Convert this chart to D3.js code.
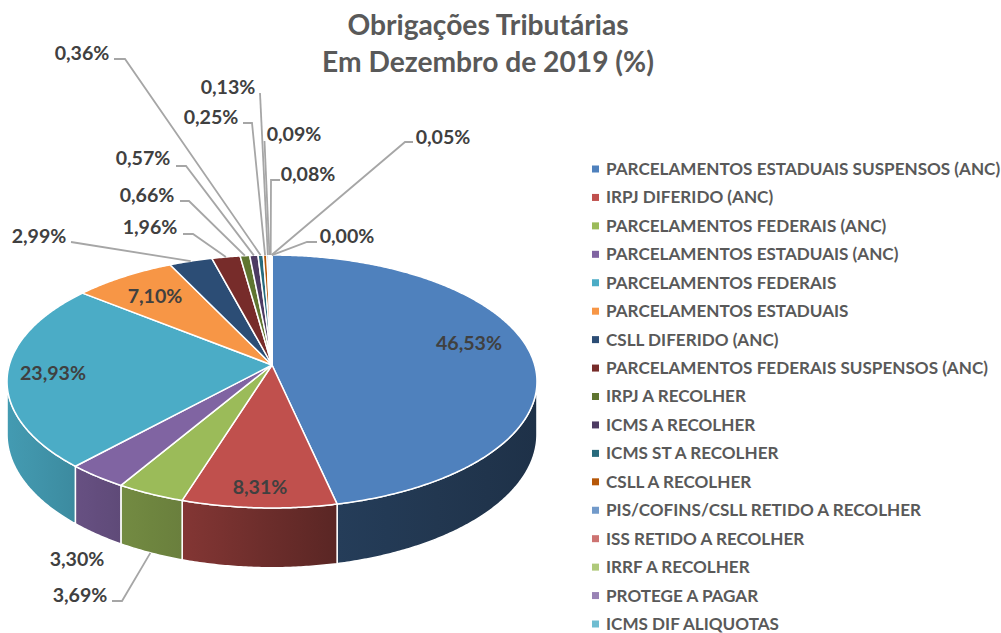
<!DOCTYPE html>
<html lang="pt">
<head>
<meta charset="utf-8">
<script src="https://cdnjs.cloudflare.com/ajax/libs/d3/7.8.5/d3.min.js"></script>
<style>
html,body{margin:0;padding:0;background:#fff}
svg{display:block}
text{font-family:Lato,"Open Sans",sans-serif;font-weight:700}
</style>
</head>
<body>
<svg id="chart" width="1001" height="633"></svg>
<script>
const titleLines = ["Obrigações Tributárias", "Em Dezembro de 2019 (%)"];
const categories = [
  "PARCELAMENTOS ESTADUAIS SUSPENSOS (ANC)", "IRPJ DIFERIDO (ANC)", "PARCELAMENTOS FEDERAIS (ANC)",
  "PARCELAMENTOS ESTADUAIS (ANC)", "PARCELAMENTOS FEDERAIS", "PARCELAMENTOS ESTADUAIS",
  "CSLL DIFERIDO (ANC)", "PARCELAMENTOS FEDERAIS SUSPENSOS (ANC)", "IRPJ A RECOLHER",
  "ICMS A RECOLHER", "ICMS ST A RECOLHER", "CSLL A RECOLHER", "PIS/COFINS/CSLL RETIDO A RECOLHER",
  "ISS RETIDO A RECOLHER", "IRRF A RECOLHER", "PROTEGE A PAGAR", "ICMS DIF ALIQUOTAS"
];
const values = [46.53, 8.31, 3.69, 3.30, 23.93, 7.10, 2.99, 1.96, 0.66, 0.57, 0.36, 0.25, 0.13, 0.09, 0.08, 0.05, 0.00];
const colors = ["#4f81bd","#c0504d","#9bbb59","#8064a2","#4bacc6","#f79646","#2c4d75","#772c2a","#5f7530",
  "#4d3b62","#276a7c","#b65708","#729aca","#cd7371","#afc97a","#9983b5","#6fbdd1"];

// Label layout, by slice index: text centre, and the leader's knee (null = none).
const labelLayout = [
  {c:[469,343]}, {c:[260,487]}, {c:[80,595], from:[112,601], knee:[122,601], edge:"bottom"},
  {c:[77,559]}, {c:[53,373]}, {c:[155,296]},
  {c:[39,236], from:[71,242], edge:"top"},
  {c:[150,227], from:[183,234], knee:[193,234], edge:"top"},
  {c:[147,195], from:[180,201], knee:[189,201], edge:"top"},
  {c:[143,158], from:[176,166], knee:[186,166], edge:"top"},
  {c:[82,53], from:[114,59], knee:[125,59], edge:"top"},
  {c:[211,117], from:[243,123], knee:[252,123], edge:"top"},
  {c:[228,87], from:[260,93], edge:"top"},
  {c:[294,134], from:[264.5,141], edge:"top"},
  {c:[308,174], from:[280,180], knee:[271,180], edge:"top"},
  {c:[443,137], from:[413,142], knee:[405,142], edge:"top"},
  {c:[347,236], from:[317,242], knee:[307,242], edge:"top"}
];

// Perspective disc: unit circle mapped by a homography onto the picture.
const cx = 272, cy = 365, A = 262.7, B = 124.3, K = 0.1304, D = 52;
const project = (a, drop) => {
  const u = Math.sin(a), v = -Math.cos(a), w = 1 - K * v;
  return [cx + A * u / w, cy + B * v / w + (drop ? D / w : 0)];
};
const STEP = Math.PI / 360;
const sample = (a0, a1) => {
  const n = Math.max(1, Math.ceil((a1 - a0) / STEP)), out = [];
  for (let i = 0; i <= n; i++) out.push(a0 + (a1 - a0) * i / n);
  return out;
};

const svg = d3.select("#chart");
const defs = svg.append("defs");
const line = d3.line();
const arcs = d3.pie().sort(null).value(d => d)(values);

// Side wall brightness varies across the picture.
const shade = d3.scaleLinear().domain([7,122,183,337,537]).range([.9,.74,.68,.47,.38]);
const sideLo = Math.acos(-K), sideHi = 2 * Math.PI - Math.acos(-K);

arcs.forEach((d, i) => {
  const a0 = Math.max(d.startAngle, sideLo), a1 = Math.min(d.endAngle, sideHi);
  if (a1 <= a0) return;
  const ang = sample(a0, a1);
  const pts = ang.map(a => project(a, false)).concat(ang.slice().reverse().map(a => project(a, true)));
  const xs = d3.extent(pts, p => p[0]);
  const g = defs.append("linearGradient").attr("id", "side" + i)
    .attr("gradientUnits", "userSpaceOnUse")
    .attr("x1", xs[0]).attr("x2", xs[1]).attr("y1", 0).attr("y2", 0);
  d3.range(5).forEach(k => {
    const t = k / 4, x = xs[0] + (xs[1] - xs[0]) * t, c = d3.rgb(colors[i]), s = shade(x);
    g.append("stop").attr("offset", t).attr("stop-color", d3.rgb(c.r * s, c.g * s, c.b * s).formatHex());
  });
  svg.append("path").attr("d", line(pts) + "Z").attr("fill", `url(#side${i})`)
    .attr("stroke", "#fff").attr("stroke-width", 1.5).attr("stroke-linejoin", "round");
});

arcs.forEach((d, i) => {
  const pts = [[cx, cy]].concat(sample(d.startAngle, d.endAngle).map(a => project(a, false)));
  svg.append("path").attr("d", line(pts) + "Z").attr("fill", colors[i])
    .attr("stroke", "#fff").attr("stroke-width", 1.5).attr("stroke-linejoin", "round");
});

// Leader lines
arcs.forEach((d, i) => {
  const l = labelLayout[i];
  if (!l.from) return;
  const mid = (d.startAngle + d.endAngle) / 2;
  const end = project(mid, l.edge === "bottom");
  const pts = [l.from].concat(l.knee ? [l.knee] : [], [end]);
  svg.append("path").attr("d", line(pts)).attr("fill", "none")
    .attr("stroke", "#a6a6a6").attr("stroke-width", 1.8);
});

// Data labels
const fmt = v => v.toFixed(2).replace(".", ",") + "%";
values.forEach((v, i) => {
  const l = labelLayout[i];
  svg.append("text").attr("x", l.c[0]).attr("y", l.c[1]).attr("dy", "0.35em")
    .attr("text-anchor", "middle").attr("font-size", 19.6).attr("fill", "#404040").text(fmt(v));
});

// Title
titleLines.forEach((t, i) => {
  svg.append("text").attr("x", 488).attr("y", 25 + i * 37).attr("dy", "0.35em")
    .attr("text-anchor", "middle").attr("font-size", 28.2).attr("fill", "#595959").text(t);
});

// Legend
const legendY = d3.scalePoint().domain(categories).range([169, 624]);
const legend = svg.append("g");
categories.forEach((c, i) => {
  const y = legendY(c);
  legend.append("rect").attr("x", 592).attr("y", y - 3.5).attr("width", 7).attr("height", 7).attr("fill", colors[i]);
  legend.append("text").attr("x", 606).attr("y", y).attr("dy", "0.35em")
    .attr("font-size", 17.1).attr("fill", "#595959").text(c);
});
</script>
</body>
</html>
